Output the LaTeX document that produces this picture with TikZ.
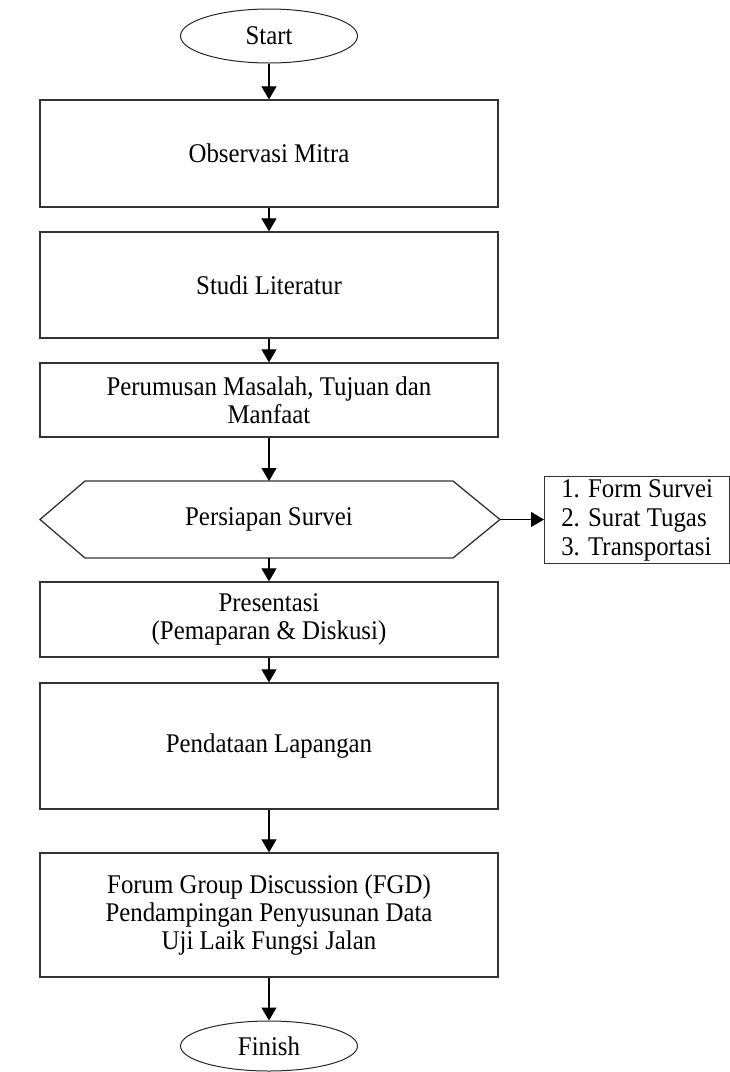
\documentclass[tikz,border=0pt]{standalone}
\usepackage{fontspec}
\setmainfont{Liberation Serif}[FakeStretch=0.92]
\usetikzlibrary{arrows.meta,shapes.geometric}
\begin{document}
\begin{tikzpicture}[x=1pt,y=-1pt,
  every node/.style={font=\fontsize{27}{28}\selectfont},
  box/.style={draw=black!80,line width=1.3pt,minimum width=458pt,align=center,inner sep=0pt},
  term/.style={draw=black!85,ellipse,line width=1pt,minimum width=177pt,minimum height=54pt,inner sep=0pt},
  arr/.style={line width=1.2pt,-{Triangle[width=15pt,length=13pt]}}]
\useasboundingbox (0,0) rectangle (730,1072);
\node[term] (start) at (269,36) {Start};
\node[box,minimum height=107pt] (b1) at (269,153.5) {Observasi Mitra};
\node[box,minimum height=106pt] (b2) at (269,285) {Studi Literatur};
\node[box,minimum height=74pt] (b3) at (269,400) {Perumusan Masalah, Tujuan dan\\Manfaat};
\coordinate (hx) at (269,519.5);
\draw[draw=black!80,line width=1.3pt] (40,519.5) -- (85,481) -- (453,481) -- (500,519.5) -- (453,558) -- (85,558) -- cycle;
\node[inner sep=0pt,minimum width=460pt,minimum height=77pt] (hex) at (hx) {Persiapan Survei};
\coordinate (hr) at (500,519.5);
\node[draw=black!80,line width=1.3pt,align=left,anchor=north west,minimum width=185pt,minimum height=87pt,inner xsep=10pt,inner ysep=0pt,font=\fontsize{27}{29}\selectfont] (side) at (544,476) {1. Form Survei\\2. Surat Tugas\\3. Transportasi};
\node[box,minimum height=75pt] (b4) at (269,619.5) {Presentasi\\(Pemaparan \& Diskusi)};
\node[box,minimum height=126pt] (b5) at (269,746) {Pendataan Lapangan};
\node[box,minimum height=124pt] (b6) at (269,915) {Forum Group Discussion (FGD)\\Pendampingan Penyusunan Data\\Uji Laik Fungsi Jalan};
\node[term,minimum height=50pt] (fin) at (269,1046) {Finish};
\draw[arr] (start) -- (b1);
\draw[arr] (b1) -- (b2);
\draw[arr] (b2) -- (b3);
\draw[arr] (b3.south) -- (269,481);
\draw[arr] (hr) -- (side.west |- hr);
\draw[arr] (269,558) -- (b4.north);
\draw[arr] (b4) -- (b5);
\draw[arr] (b5) -- (b6);
\draw[arr] (b6) -- (fin);
\end{tikzpicture}
\end{document}
